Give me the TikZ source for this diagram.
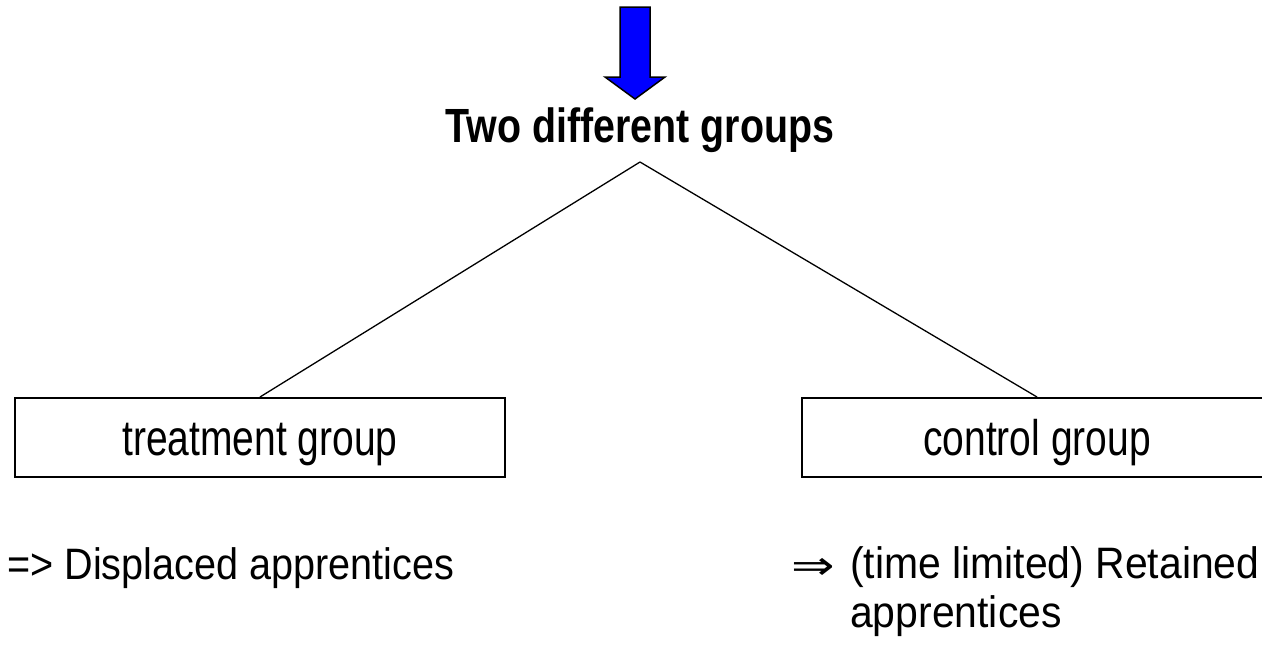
\documentclass[tikz,border=0pt]{standalone}
\usepackage{fontspec}
\setmainfont{Liberation Sans}[FakeStretch=0.82]
\newfontfamily\boxfont{Liberation Sans}[FakeStretch=0.78]
\newfontfamily\plainfont{Liberation Sans}[FakeStretch=0.9]
\newfontfamily\plainfontb{Liberation Sans}[FakeStretch=0.93]
\newfontfamily\symfont{DejaVu Sans}
\begin{document}
\begin{tikzpicture}[x=1pt,y=-1pt,
  boxtext/.style={font=\boxfont\fontsize{50}{58}\selectfont},
  plaintext/.style={font=\plainfont\fontsize{44}{49}\selectfont},
  grp/.style={draw, line width=2pt, inner sep=0pt, minimum height=79pt, text height=40pt, text depth=5pt, boxtext},
  conn/.style={line width=1.3pt},
  bigarrow/.style={fill=blue, draw=black, line width=1.5pt, line join=miter}]
\useasboundingbox (0,0) rectangle (1262,646);
% blue arrow
\draw[bigarrow] (620,7) -- (650,7) -- (650,77) -- (665,77) -- (635,99) -- (605,77) -- (620,77) -- cycle;
\node[anchor=base, font=\fontsize{48}{56}\bfseries\selectfont] (title) at (640,142) {Two different groups};
\coordinate (apex) at (640,162);
\node[grp, minimum width=490pt] (tb) at (260,437.5) {treatment group};
\node[grp, minimum width=470pt] (cb) at (1037,437.5) {control group};
\draw[conn] (apex) -- (tb.north);
\draw[conn] (apex) -- (cb.north);
\node[plaintext, anchor=base west, inner sep=0pt] (lt) at (7,579) {=> Displaced apprentices};
\node[anchor=base west, inner sep=0pt, font=\symfont\fontsize{40}{49}\selectfont, xscale=1.3] (ra) at (791,579) {⇒};
\node[plaintext, font=\plainfontb\fontsize{44}{49}\selectfont, anchor=base west, inner sep=0pt, align=left] (rt) at (850,627) {(time limited) Retained\\apprentices};
\end{tikzpicture}
\end{document}
